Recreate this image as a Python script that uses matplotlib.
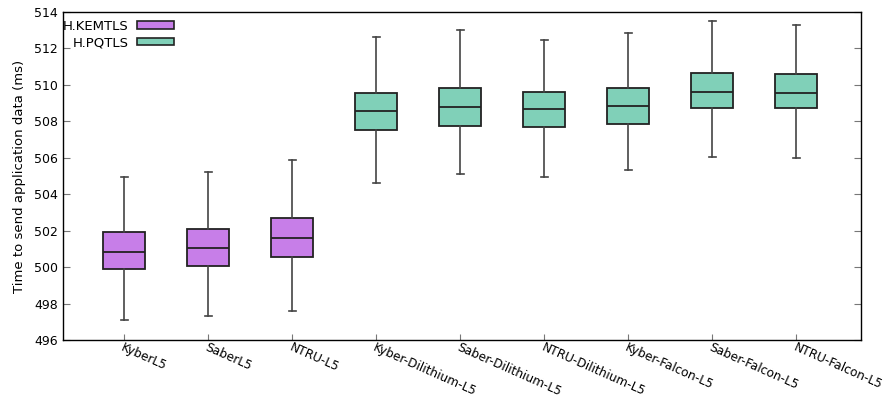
import matplotlib
matplotlib.use("Agg")
import matplotlib.pyplot as plt
import matplotlib.transforms as mtransforms
from matplotlib.patches import Patch

# five-number summaries per configuration (ms)
labels = ["KyberL5", "SaberL5", "NTRU-L5",
          "Kyber-Dilithium-L5", "Saber-Dilithium-L5", "NTRU-Dilithium-L5",
          "Kyber-Falcon-L5", "Saber-Falcon-L5", "NTRU-Falcon-L5"]
groups = ["H.KEMTLS"] * 3 + ["H.PQTLS"] * 6
whisker_low = [497.1, 497.3, 497.6, 504.6, 505.1, 504.95, 505.35, 506.05, 506.0]
q1 = [499.9, 500.05, 500.55, 507.5, 507.75, 507.7, 507.85, 508.73, 508.73]
median = [500.83, 501.05, 501.6, 508.55, 508.78, 508.67, 508.84, 509.6, 509.58]
q3 = [501.93, 502.1, 502.7, 509.55, 509.83, 509.62, 509.84, 510.65, 510.6]
whisker_high = [504.95, 505.2, 505.85, 512.6, 513.0, 512.45, 512.85, 513.5, 513.3]

colors = {"H.KEMTLS": "#c77ee8", "H.PQTLS": "#80d0b8"}

plt.rcParams["font.family"] = ["DejaVu Sans"]
plt.rcParams["font.size"] = 9

fig = plt.figure(figsize=(8.89, 3.99), dpi=100)
ax = fig.add_axes([0.0709, 0.148, 0.8976, 0.822])

stats = []
for i, lab in enumerate(labels):
    stats.append({"label": lab, "whislo": whisker_low[i], "q1": q1[i],
                  "med": median[i], "q3": q3[i], "whishi": whisker_high[i]})

positions = list(range(1, len(labels) + 1))
bp = ax.bxp(stats, positions=positions, widths=0.5, capwidths=0.09,
            showfliers=False, patch_artist=True,
            boxprops=dict(edgecolor="#222222", linewidth=1.3),
            medianprops=dict(color="#222222", linewidth=1.3),
            whiskerprops=dict(color="#444444", linewidth=1.2),
            capprops=dict(color="#444444", linewidth=1.2))
for box, g in zip(bp["boxes"], groups):
    box.set_facecolor(colors[g])

ax.set_xlim(0.27, 9.77)
ax.set_ylim(496, 514)
ax.set_yticks(range(496, 515, 2))
ax.set_xticks(positions)
ax.set_xticklabels(labels, rotation=-24, ha="left", va="top",
                   rotation_mode="anchor", fontsize=8.7)
# nudge rotated labels up so they start right under the axis
offset = mtransforms.ScaledTranslation(0, 0.02, fig.dpi_scale_trans)
for t in ax.get_xticklabels():
    t.set_transform(t.get_transform() + offset)

ax.tick_params(axis="both", direction="in", length=4, width=0.8,
               color="#777777", labelcolor="black")
ax.tick_params(axis="y", right=True, length=5)
ax.tick_params(axis="x", top=False, pad=0.5)
for s in ax.spines.values():
    s.set_linewidth(1.0)

ax.set_ylabel("Time to send application data (ms)", fontsize=9.5, labelpad=6)

handles = [Patch(facecolor=colors[g], edgecolor="#222222", linewidth=1.2, label=g)
           for g in ["H.KEMTLS", "H.PQTLS"]]
ax.legend(handles=handles, loc="upper left", frameon=False, markerfirst=False,
          handlelength=2.8, handleheight=0.55, handletextpad=0.6,
          labelspacing=0.25, borderaxespad=0.2, fontsize=9.5,
          bbox_to_anchor=(-0.01, 1.0))

fig.savefig("out.png", dpi=100)
